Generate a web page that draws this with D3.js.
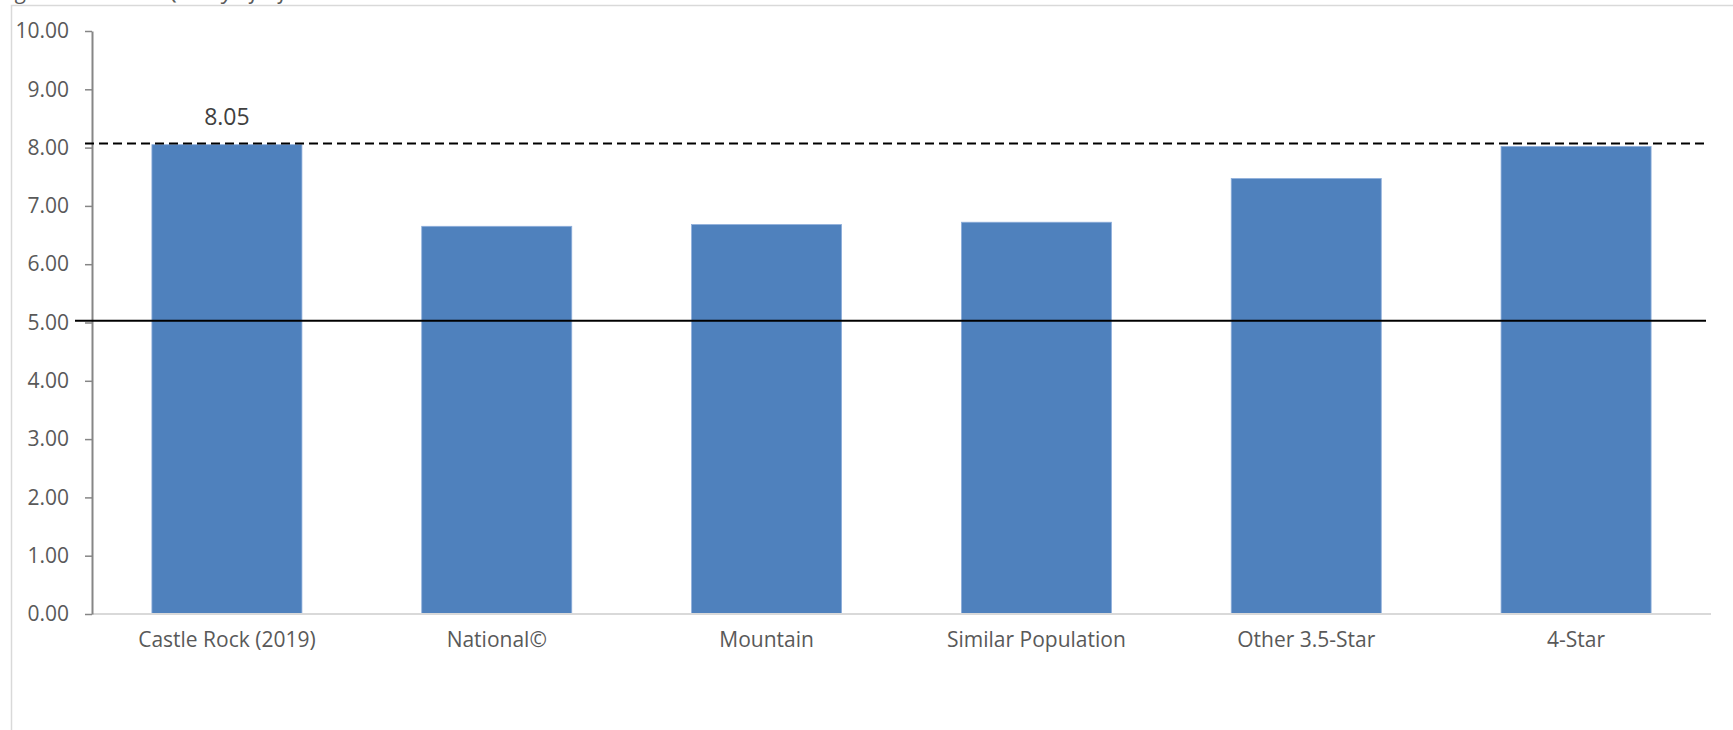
<!DOCTYPE html>
<html>
<head>
<meta charset="utf-8">
<script src="https://cdn.jsdelivr.net/npm/d3@7"></script>
<style>
  html, body { margin: 0; padding: 0; background: #ffffff; }
  svg { display: block; }
  text { font-family: "Open Sans", "DejaVu Sans", sans-serif; }
</style>
</head>
<body>
<svg id="chart" width="1733" height="730"></svg>
<script>
// ---- data ----
const categories = ["Castle Rock (2019)", "National\u00A9", "Mountain", "Similar Population", "Other 3.5-Star", "4-Star"];
const values = [8.05, 6.65, 6.68, 6.72, 7.47, 8.02];
const dataLabels = ["8.05", "", "", "", "", ""];
const yTicks = [0, 1, 2, 3, 4, 5, 6, 7, 8, 9, 10];
const dashedRef = 8.07;
const solidRef = 5.03;
const captionText = "Figure 1: Overall Quality of Life";

// ---- layout ----
const svg = d3.select("#chart");
const W = 1733, H = 730;
const plot = { left: 92, right: 1711, top: 31, bottom: 614 };

// chart border (light gray frame, partially cropped)
svg.append("rect")
  .attr("x", 11.5).attr("y", 5.5)
  .attr("width", W + 20).attr("height", H + 20)
  .attr("fill", "#ffffff").attr("stroke", "#d9d9d9").attr("stroke-width", 1.5);

// caption cut off at top (only descenders visible, as in the reference)
svg.append("text")
  .attr("x", 0).attr("y", -1)
  .attr("font-size", 22).attr("font-style", "italic")
  .attr("fill", "#595959")
  .text(captionText);

const x = d3.scaleBand()
  .domain(categories)
  .range([plot.left, plot.right])
  .paddingInner(0.444)
  .paddingOuter(0.222);

const y = d3.scaleLinear()
  .domain([0, 10])
  .range([plot.bottom, plot.top]);

// bars
svg.append("g").selectAll("rect")
  .data(categories)
  .join("rect")
  .attr("x", d => x(d))
  .attr("y", (d, i) => y(values[i]))
  .attr("width", x.bandwidth())
  .attr("height", (d, i) => y(0) - y(values[i]))
  .attr("fill", "#4f81bd")
  .attr("stroke", "#8eaedb")
  .attr("stroke-width", 0.8);

// x baseline (light gray)
svg.append("line")
  .attr("x1", plot.left).attr("x2", plot.right)
  .attr("y1", y(0)).attr("y2", y(0))
  .attr("stroke", "#d9d9d9").attr("stroke-width", 2);

// y axis
const yAxis = d3.axisLeft(y)
  .tickValues(yTicks)
  .tickFormat(d3.format(".2f"))
  .tickSizeInner(7)
  .tickSizeOuter(0)
  .tickPadding(16);

const gy = svg.append("g")
  .attr("transform", `translate(${plot.left},0)`)
  .call(yAxis);
gy.select(".domain").attr("stroke", "#868686").attr("stroke-width", 2);
gy.selectAll(".tick line").attr("stroke", "#868686").attr("stroke-width", 1.5);
gy.selectAll(".tick text")
  .attr("fill", "#595959")
  .attr("font-size", 21)
  .attr("font-family", "Open Sans, sans-serif");

// x axis labels
const xAxis = d3.axisBottom(x).tickSize(0).tickPadding(18);
const gx = svg.append("g")
  .attr("transform", `translate(0,${plot.bottom})`)
  .call(xAxis);
gx.select(".domain").remove();
gx.selectAll(".tick text")
  .attr("fill", "#595959")
  .attr("font-size", 21)
  .attr("font-family", "Open Sans, sans-serif");

// reference lines
svg.append("line")
  .attr("x1", 85).attr("x2", 1705)
  .attr("y1", y(dashedRef)).attr("y2", y(dashedRef))
  .attr("stroke", "#000000").attr("stroke-width", 2)
  .attr("stroke-dasharray", "9,5");

svg.append("line")
  .attr("x1", 75).attr("x2", 1706)
  .attr("y1", y(solidRef)).attr("y2", y(solidRef))
  .attr("stroke", "#000000").attr("stroke-width", 2);

// data labels
svg.append("g").selectAll("text")
  .data(categories)
  .join("text")
  .attr("x", d => x(d) + x.bandwidth() / 2)
  .attr("y", (d, i) => y(values[i]) - 20)
  .attr("text-anchor", "middle")
  .attr("font-size", 23)
  .attr("fill", "#404040")
  .text((d, i) => dataLabels[i]);
</script>
</body>
</html>
